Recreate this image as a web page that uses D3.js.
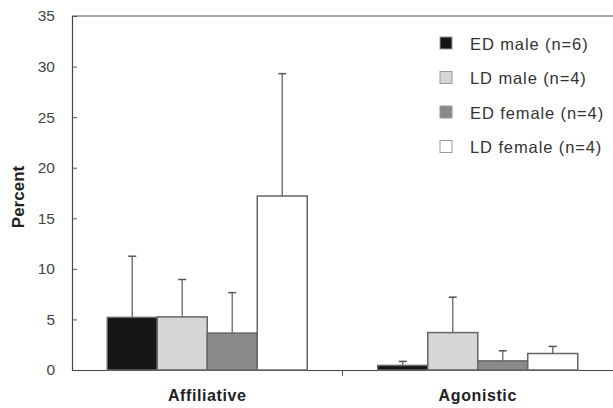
<!DOCTYPE html>
<html>
<head>
<meta charset="utf-8">
<script src="https://cdn.jsdelivr.net/npm/d3@7"></script>
<style>
  body { margin: 0; background: #fff; }
  text { font-family: "Liberation Sans", Arial, sans-serif; }
</style>
</head>
<body>
<svg id="chart"></svg>
<script>
var categories = ["Affiliative", "Agonistic"];
var groups = ["ED male (n=6)", "LD male (n=4)", "ED female (n=4)", "LD female (n=4)"];
var means = [
  [5.2, 5.25, 3.65, 17.2],
  [0.45, 3.7, 0.9, 1.63]
];
var upper = [
  [11.25, 8.95, 7.65, 29.3],
  [0.85, 7.2, 1.9, 2.33]
];
var yTicks = [0, 5, 10, 15, 20, 25, 30, 35];
var fills = ["#151515", "#d6d6d6", "#8a8a8a", "#ffffff"];

var W = 613, H = 408;
var margin = {top: 16, right: 0, bottom: 38, left: 72};
var width = W - margin.left - margin.right,
    height = H - margin.top - margin.bottom;

var svg = d3.select("#chart").attr("width", W).attr("height", H);
var g = svg.append("g").attr("transform", "translate(" + margin.left + "," + margin.top + ")");

var x = d3.scaleBand().domain(categories).range([0, width]);
var xs = d3.scaleBand().domain(groups).range([0, 200]);
var y = d3.scaleLinear().domain([0, 35]).range([height, 0]);

// top frame
g.append("line").attr("x1", 0).attr("x2", width).attr("y1", 0).attr("y2", 0)
  .attr("stroke", "#555").attr("stroke-width", 1.2);

// y axis
var yAxis = g.append("g").call(d3.axisLeft(y).tickValues(yTicks).tickSize(-5).tickPadding(17));
yAxis.select(".domain").attr("stroke", "#444").attr("stroke-width", 1.2);
yAxis.selectAll(".tick line").attr("stroke", "#555");
yAxis.selectAll("text").attr("font-size", 15.5).attr("fill", "#444")
  .style("font-family", "'Liberation Sans', Arial, sans-serif");

// x axis
var xAxis = g.append("g").attr("transform", "translate(0," + height + ")")
  .call(d3.axisBottom(x).tickSize(0).tickPadding(20));
xAxis.select(".domain").attr("stroke", "#444").attr("stroke-width", 1.2);
xAxis.selectAll("text").attr("font-size", 16).attr("font-weight", "bold").attr("fill", "#222")
  .attr("letter-spacing", 0.6)
  .style("font-family", "'Liberation Sans', Arial, sans-serif");
g.append("line").attr("x1", width / 2).attr("x2", width / 2)
  .attr("y1", height).attr("y2", height + 6).attr("stroke", "#555");

// bars
categories.forEach(function(c, ci) {
  var cg = g.append("g")
    .attr("transform", "translate(" + (x(c) + x.bandwidth() / 2 - 100) + ",0)");
  var rows = groups.map(function(gr, gi) {
    return {group: gr, mean: means[ci][gi], up: upper[ci][gi], fill: fills[gi]};
  });
  cg.selectAll("line.err").data(rows).enter().append("line")
    .attr("class", "err")
    .attr("x1", d => xs(d.group) + xs.bandwidth() / 2)
    .attr("x2", d => xs(d.group) + xs.bandwidth() / 2)
    .attr("y1", d => y(d.mean)).attr("y2", d => y(d.up))
    .attr("stroke", "#7a7a7a").attr("stroke-width", 1.5);
  cg.selectAll("line.cap").data(rows).enter().append("line")
    .attr("class", "cap")
    .attr("x1", d => xs(d.group) + xs.bandwidth() / 2 - 4)
    .attr("x2", d => xs(d.group) + xs.bandwidth() / 2 + 4)
    .attr("y1", d => y(d.up)).attr("y2", d => y(d.up))
    .attr("stroke", "#555").attr("stroke-width", 1.5);
  cg.selectAll("rect").data(rows).enter().append("rect")
    .attr("x", d => xs(d.group))
    .attr("width", xs.bandwidth())
    .attr("y", d => y(d.mean))
    .attr("height", d => y(0) - y(d.mean))
    .attr("fill", d => d.fill)
    .attr("stroke", "#666").attr("stroke-width", 1.5);
});

// y label
svg.append("text")
  .attr("transform", "translate(24," + 197 + ") rotate(-90)")
  .attr("text-anchor", "middle")
  .attr("font-size", 17).attr("font-weight", "bold").attr("fill", "#222")
  .text("Percent");

// legend
var lg = svg.append("g").attr("transform", "translate(440,37)");
var items = lg.selectAll("g").data(groups).enter().append("g")
  .attr("transform", (d, i) => "translate(0," + (i * 34.5) + ")");
items.append("rect").attr("width", 12).attr("height", 12)
  .attr("fill", (d, i) => fills[i]).attr("stroke", "#999").attr("stroke-width", 1);
items.append("text").attr("x", 30).attr("y", 12.5)
  .attr("font-size", 16.5).attr("fill", "#333").attr("letter-spacing", 0.9).text(d => d);
</script>
</body>
</html>
